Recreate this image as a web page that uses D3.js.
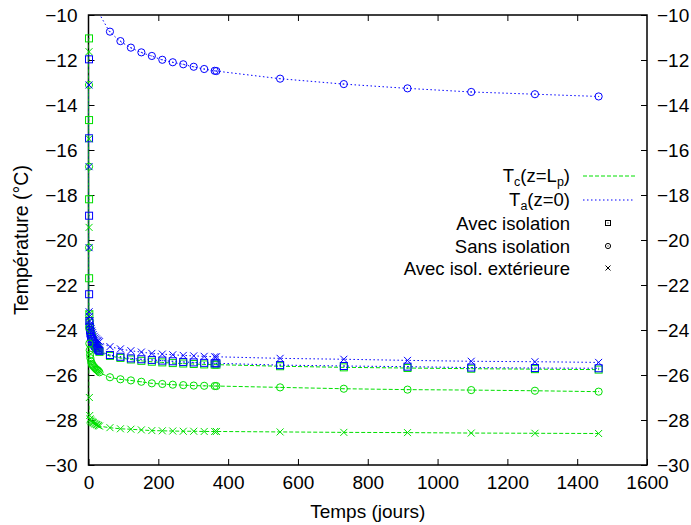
<!DOCTYPE html>
<html><head><meta charset="utf-8">
<script src="https://cdn.jsdelivr.net/npm/d3@7"></script>
<style>body{margin:0;background:#fff}svg{display:block}text{font-family:"Liberation Sans",Arial,sans-serif}</style>
</head><body>
<script>
// time points (days)
const days = [0,0.1,0.2,0.3, 1,2,3,4,6,8,10,12,15,18,21,24,27,
  30,60,90,120,150,180,210,240,270,300,330,360,365,
  547.5,730,912.5,1095,1277.5,1460];
const tcAvecIso = [-11.04,-14.67,-18.19,-21.70, -23.30,-23.70,-23.90,-24.05,-24.20,-24.30,-24.40,-24.50,-24.60,-24.70,-24.75,-24.80,-24.88,
  -24.97,-25.15,-25.24,-25.31,-25.37,-25.41,-25.44,-25.47,-25.49,-25.51,-25.53,-25.54,-25.54,
  -25.61,-25.66,-25.69,-25.72,-25.74,-25.76];
const taAvecIso = [-11.97,-15.48,-18.92,-22.41, -23.60,-23.85,-24.00,-24.15,-24.30,-24.40,-24.50,-24.55,-24.65,-24.72,-24.78,-24.83,-24.88,
  -24.93,-25.11,-25.19,-25.26,-25.30,-25.33,-25.36,-25.39,-25.42,-25.44,-25.46,-25.48,-25.48,
  -25.56,-25.60,-25.63,-25.67,-25.69,-25.70];
const tcSansIso = [-13.11,-16.74,-20.34,-23.90, -24.60,-24.90,-25.10,-25.25,-25.40,-25.50,-25.55,-25.60,-25.65,-25.70,-25.75,-25.78,-25.82,
  -25.88,-26.10,-26.19,-26.24,-26.30,-26.37,-26.40,-26.43,-26.45,-26.47,-26.48,-26.49,-26.49,
  -26.55,-26.61,-26.65,-26.67,-26.70,-26.74];
const taSansIso = [null,null,null,null, null,null,null,null,null,null,null,null,null,null,null,null,null,
  -9.92,-10.74,-11.16,-11.45,-11.66,-11.82,-11.99,-12.10,-12.19,-12.30,-12.40,-12.48,-12.49,
  -12.83,-13.07,-13.26,-13.42,-13.52,-13.62];
const tcIsolExt = [-11.63,-15.50,-19.44,-23.30, -27.00,-27.80,-27.95,-28.00,-28.05,-28.08,-28.10,-28.12,-28.15,-28.18,-28.20,-28.22,-28.25,
  -28.27,-28.34,-28.39,-28.41,-28.44,-28.47,-28.48,-28.49,-28.50,-28.50,-28.51,-28.51,-28.51,
  -28.53,-28.55,-28.56,-28.58,-28.59,-28.60];
const taIsolExt = [-13.11,-16.74,-20.34,-23.19, -23.40,-23.60,-23.75,-23.85,-23.95,-24.05,-24.12,-24.20,-24.28,-24.35,-24.40,-24.45,-24.48,
  -24.52,-24.74,-24.84,-24.92,-24.98,-25.04,-25.07,-25.10,-25.13,-25.15,-25.17,-25.19,-25.19,
  -25.26,-25.30,-25.35,-25.39,-25.41,-25.44];
const xTicks = [0,200,400,600,800,1000,1200,1400,1600];
const yTicks = [-30,-28,-26,-24,-22,-20,-18,-16,-14,-12,-10];
const legendMarkers = ["Avec isolation","Sans isolation","Avec isol. extérieure"];

const W=691,H=525;
const L=88.5,R=647,T=15,B=465;
const FS=19, LFS=18.5;
const GREEN="#00e000", BLUE="#0000ff";
const svg=d3.select("body").append("svg").attr("width",W).attr("height",H);
const x=d3.scaleLinear().domain([0,1600]).range([L,R]);
const y=d3.scaleLinear().domain([-30,-10]).range([B,T]);
const fmt=d=>String(d).replace("-","\u2212");

svg.append("clipPath").attr("id","clip").append("rect").attr("x",L).attr("y",T).attr("width",R-L).attr("height",B-T);

// axes (inward ticks, mirrored) + border drawn first
const ax=svg.append("g");
ax.append("g").attr("transform",`translate(0,${B})`).call(d3.axisBottom(x).tickValues(xTicks).tickSizeInner(-6).tickSizeOuter(0).tickPadding(11).tickFormat(d=>d));
ax.append("g").attr("transform",`translate(0,${T})`).call(d3.axisTop(x).tickValues(xTicks.slice(1,-1)).tickSizeInner(-6).tickSizeOuter(0).tickFormat(""));
ax.append("g").attr("transform",`translate(${L},0)`).call(d3.axisLeft(y).tickValues(yTicks).tickSizeInner(-6).tickSizeOuter(0).tickPadding(11).tickFormat(fmt));
ax.append("g").attr("transform",`translate(${R},0)`).call(d3.axisRight(y).tickValues(yTicks).tickSizeInner(-6).tickSizeOuter(0).tickPadding(10).tickFormat(fmt));
ax.selectAll(".domain").remove();
ax.selectAll("text").attr("font-size",FS).attr("fill","#000").attr("font-family","Liberation Sans, Arial, sans-serif");
ax.selectAll(".tick line").attr("stroke","#000").attr("stroke-width",1);
svg.append("rect").attr("x",L).attr("y",T).attr("width",R-L).attr("height",B-T).attr("fill","none").attr("stroke","#000").attr("stroke-width",1.5);

const series=[
  {v:tcAvecIso,c:GREEN,dash:"4,2",m:"sq"},
  {v:taAvecIso,c:BLUE,dash:"1.5,2.5",m:"sq"},
  {v:tcSansIso,c:GREEN,dash:"4,2",m:"ci"},
  {v:taSansIso,c:BLUE,dash:"1.5,2.5",m:"ci"},
  {v:tcIsolExt,c:GREEN,dash:"4,2",m:"x"},
  {v:taIsolExt,c:BLUE,dash:"1.5,2.5",m:"x"}
];
function marker(sel,type,px,py,col,h){
  h=h||3.5;
  if(type==="sq"){
    sel.append("rect").attr("x",px-h).attr("y",py-h).attr("width",2*h).attr("height",2*h).attr("fill","none").attr("stroke",col).attr("stroke-width",1);
    sel.append("rect").attr("x",px-0.5).attr("y",py-0.5).attr("width",1).attr("height",1).attr("fill",col);
  } else if(type==="ci"){
    sel.append("circle").attr("cx",px).attr("cy",py).attr("r",h+0.1).attr("fill","none").attr("stroke",col).attr("stroke-width",1);
    sel.append("rect").attr("x",px-0.5).attr("y",py-0.5).attr("width",1).attr("height",1).attr("fill",col);
  } else {
    sel.append("path").attr("d",`M${px-h},${py-h}L${px+h},${py+h}M${px-h},${py+h}L${px+h},${py-h}`).attr("stroke",col).attr("stroke-width",1);
  }
}
const g=svg.append("g").attr("clip-path","url(#clip)");
const mg=svg.append("g");
series.forEach(s=>{
  const pts=days.map((d,i)=>[d,s.v[i]]).filter(p=>p[1]!==null);
  g.append("path").datum(pts).attr("d",d3.line().x(p=>x(p[0])).y(p=>y(p[1])))
   .attr("fill","none").attr("stroke",s.c).attr("stroke-width",1).attr("stroke-dasharray",s.dash);
  const sg=mg.append("g");
  pts.forEach(p=>{ if(p[1]<=-10 && p[1]>=-30) marker(sg,s.m,x(p[0])+0.5,y(p[1]),s.c); });
});

// axis titles
svg.append("text").attr("x",(L+R)/2).attr("y",518).attr("text-anchor","middle").attr("font-size",FS).text("Temps (jours)");
svg.append("text").attr("transform",`translate(28,${(T+B)/2}) rotate(-90)`).attr("text-anchor","middle").attr("font-size",FS+0.5).text("Température (°C)");

// legend
const lx=570, lineX0=583, lineX1=635, mx=608;
const rows=[177,200,223,246,268];
const t1=svg.append("text").attr("x",lx).attr("y",rows[0]+5).attr("text-anchor","end").attr("font-size",LFS);
t1.append("tspan").text("T");
t1.append("tspan").attr("font-size",12.5).attr("dy",4).text("c");
t1.append("tspan").attr("dy",-4).text("(z=L");
t1.append("tspan").attr("font-size",12.5).attr("dy",4).text("p");
t1.append("tspan").attr("dy",-4).text(")");
const t2=svg.append("text").attr("x",lx).attr("y",rows[1]+6).attr("text-anchor","end").attr("font-size",LFS);
t2.append("tspan").text("T");
t2.append("tspan").attr("font-size",12.5).attr("dy",4).text("a");
t2.append("tspan").attr("dy",-4).text("(z=0)");
svg.append("line").attr("x1",lineX0).attr("x2",lineX1).attr("y1",rows[0]-1).attr("y2",rows[0]-1).attr("stroke",GREEN).attr("stroke-dasharray","4,2");
svg.append("line").attr("x1",lineX0).attr("x2",lineX1).attr("y1",rows[1]).attr("y2",rows[1]).attr("stroke",BLUE).attr("stroke-dasharray","1.5,2.5");
const mtypes=["sq","ci","x"];
legendMarkers.forEach((name,i)=>{
  svg.append("text").attr("x",lx).attr("y",rows[2+i]+7).attr("text-anchor","end").attr("font-size",LFS).text(name);
  marker(svg.append("g"),mtypes[i],mx,rows[2+i],"#000",2.5);
});
</script>
</body></html>
